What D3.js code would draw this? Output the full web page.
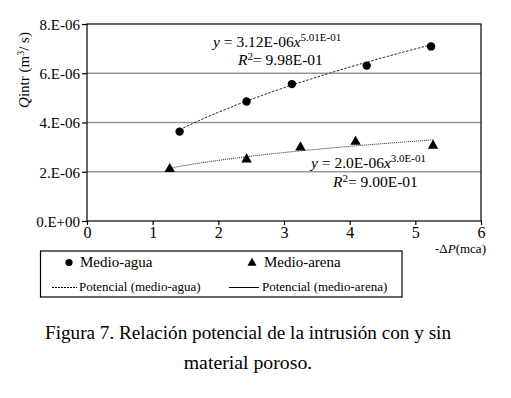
<!DOCTYPE html>
<html>
<head>
<meta charset="utf-8">
<script src="https://cdn.jsdelivr.net/npm/d3@7"></script>
<style>
  body { margin: 0; background: #fff; }
  svg { display: block; }
</style>
</head>
<body>
<div id="chart"></div>
<script>
// data
const aguaX = [1.41, 2.43, 3.12, 4.26, 5.24]
const aguaY = [3.63e-6, 4.85e-6, 5.56e-6, 6.31e-6, 7.09e-6]
const arenaX = [1.26, 2.43, 3.25, 4.09, 5.27]
const arenaY = [2.11e-6, 2.50e-6, 2.99e-6, 3.22e-6, 3.06e-6]

// power fits shown on the chart: y = a * x^b
const aguaFit = [3.12e-6, 0.501]
const arenaFit = [2.0e-6, 0.30]

const xTicks = [0, 1, 2, 3, 4, 5, 6]
const yTicks = [0, 2e-6, 4e-6, 6e-6, 8e-6]
const yTickLabels = ["0.E+00", "2.E-06", "4.E-06", "6.E-06", "8.E-06"]
const gridValues = [2e-6, 4e-6, 6e-6]

const FONT = "Liberation Serif"
const width = 511
const height = 398
const marginLeft = 87     // plot area left, px
const marginRight = 30    // 511 - 481
const marginTop = 24
const plotBottom = 221

const svg = d3.select("#chart")
    .append("svg")
    .attr("width", width)
    .attr("height", height)
    .attr("viewBox", [0, 0, width, height])

const x = d3.scaleLinear([0, 6], [marginLeft, width - marginRight])
const y = d3.scaleLinear([0, 8e-6], [plotBottom, marginTop])

// grid lines
svg.append("g")
    .selectAll("line")
    .data(gridValues)
    .join("line")
    .attr("x1", x(0))
    .attr("x2", x(6))
    .attr("y1", d => y(d))
    .attr("y2", d => y(d))
    .attr("stroke", "#999")
    .attr("stroke-width", 1.5)

// plot border
svg.append("rect")
    .attr("x", x(0))
    .attr("y", y(8e-6))
    .attr("width", x(6) - x(0))
    .attr("height", y(0) - y(8e-6))
    .attr("fill", "none")
    .attr("stroke", "#000")
    .attr("stroke-width", 1.2)

// axes
const xAxis = d3.axisBottom(x).tickValues(xTicks).tickFormat(d3.format("d"))
    .tickSize(4).tickSizeOuter(0)
svg.append("g")
    .attr("transform", `translate(0,${plotBottom})`)
    .call(xAxis)
    .call(g => g.select(".domain").remove())
    .call(g => g.selectAll(".tick line").attr("stroke", "#000").attr("stroke-width", 1.2))
    .call(g => g.selectAll(".tick text")
        .attr("y", 17)
        .attr("dy", 0)
        .attr("fill", "#000")
        .attr("font-size", 16))

const yAxis = d3.axisLeft(y).tickValues(yTicks).tickSize(5).tickSizeOuter(0)
    .tickFormat((d, i) => yTickLabels[i])
svg.append("g")
    .attr("transform", `translate(${marginLeft},0)`)
    .call(yAxis)
    .call(g => g.select(".domain").remove())
    .call(g => g.selectAll(".tick line").attr("stroke", "#000").attr("stroke-width", 1.2))
    .call(g => g.selectAll(".tick text")
        .attr("x", -7)
        .attr("dy", "0.35em")
        .attr("fill", "#000")
        .attr("font-size", 15))

// axis titles
const yTitle = svg.append("text")
    .attr("transform", "translate(29,70) rotate(-90)")
    .attr("text-anchor", "middle")
    .attr("font-size", 15)
yTitle.append("tspan").attr("font-style", "italic").text("Q")
yTitle.append("tspan").text("intr (m")
yTitle.append("tspan").attr("font-size", 10).attr("dy", -5).text("3")
yTitle.append("tspan").attr("dy", 5).text("/ s)")

const xTitle = svg.append("text")
    .attr("x", 435)
    .attr("y", 253)
    .attr("font-size", 13)
xTitle.append("tspan").text("-Δ")
xTitle.append("tspan").attr("font-style", "italic").text("P")
xTitle.append("tspan").text("(mca)")

// trend lines from the fitted equations, over the data range
const fitLine = (fit, xs) => {
    const xr = d3.extent(xs)
    const pts = d3.range(0, 41).map(k => xr[0] + (xr[1] - xr[0]) * k / 40)
    return d3.line().x(d => x(d)).y(d => y(fit[0] * Math.pow(d, fit[1])))(pts)
}

svg.append("path")
    .attr("d", fitLine(aguaFit, aguaX))
    .attr("fill", "none")
    .attr("stroke", "#222")
    .attr("stroke-width", 1)
    .attr("stroke-dasharray", "2.5,1.5")

svg.append("path")
    .attr("d", fitLine(arenaFit, arenaX))
    .attr("fill", "none")
    .attr("stroke", "#222")
    .attr("stroke-width", 1)
    .attr("stroke-dasharray", "1,1")

// markers
svg.append("g")
    .selectAll("circle")
    .data(d3.zip(aguaX, aguaY))
    .join("circle")
    .attr("cx", d => x(d[0]))
    .attr("cy", d => y(d[1]))
    .attr("r", 4.2)
    .attr("fill", "#000")

const tri = d3.symbol().type(d3.symbolTriangle).size(48)
svg.append("g")
    .selectAll("path")
    .data(d3.zip(arenaX, arenaY))
    .join("path")
    .attr("transform", d => `translate(${x(d[0])},${y(d[1])})`)
    .attr("d", tri)
    .attr("fill", "#000")

// fit annotations
const eq = (ex, ey, a, b) => {
    const t = svg.append("text").attr("x", ex).attr("y", ey).attr("font-size", 15.5)
    t.append("tspan").attr("font-style", "italic").text("y")
    t.append("tspan").text(` = ${a}`)
    t.append("tspan").attr("font-style", "italic").text("x")
    t.append("tspan").attr("font-size", 11).attr("dy", -6).text(b)
}
const r2 = (ex, ey, v) => {
    const t = svg.append("text").attr("x", ex).attr("y", ey).attr("font-size", 15.5)
    t.append("tspan").attr("font-style", "italic").text("R")
    t.append("tspan").attr("font-size", 11).attr("dy", -5).text("2")
    t.append("tspan").attr("dy", 5).text(`= ${v}`)
}
eq(213, 47, "3.12E-06", "5.01E-01")
r2(238, 65, "9.98E-01")
eq(311, 168, "2.0E-06", "3.0E-01")
r2(333, 187, "9.00E-01")

// legend
const legend = svg.append("g")
legend.append("rect")
    .attr("x", 40.5).attr("y", 251)
    .attr("width", 361.5).attr("height", 46)
    .attr("fill", "none").attr("stroke", "#000").attr("stroke-width", 1.2)
legend.append("circle").attr("cx", 69).attr("cy", 262.5).attr("r", 3.6).attr("fill", "#000")
legend.append("text").attr("x", 80).attr("y", 267).attr("font-size", 15).text("Medio-agua")
legend.append("path")
    .attr("transform", "translate(252,263)")
    .attr("d", d3.symbol().type(d3.symbolTriangle).size(36))
    .attr("fill", "#000")
legend.append("text").attr("x", 264).attr("y", 267).attr("font-size", 15).text("Medio-arena")
legend.append("line")
    .attr("x1", 52).attr("x2", 77).attr("y1", 287.5).attr("y2", 287.5)
    .attr("stroke", "#000").attr("stroke-dasharray", "2,1")
legend.append("text").attr("x", 79).attr("y", 291).attr("font-size", 13).text("Potencial (medio-agua)")
legend.append("line")
    .attr("x1", 229).attr("x2", 259).attr("y1", 287.5).attr("y2", 287.5)
    .attr("stroke", "#000")
legend.append("text").attr("x", 262).attr("y", 291).attr("font-size", 13).text("Potencial (medio-arena)")

// caption
svg.append("text")
    .attr("x", 248).attr("y", 339)
    .attr("text-anchor", "middle")
    .attr("font-size", 19.2)
    .text("Figura 7. Relación potencial de la intrusión con y sin")
svg.append("text")
    .attr("x", 248).attr("y", 369)
    .attr("text-anchor", "middle")
    .attr("font-size", 19.8)
    .text("material poroso.")

// serif everywhere (axis groups default to sans-serif)
svg.selectAll("text").attr("font-family", FONT)
</script>
</body>
</html>
